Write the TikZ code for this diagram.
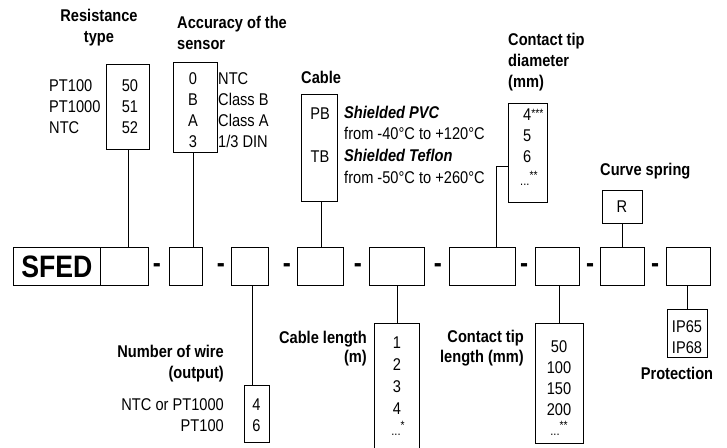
\documentclass[tikz,border=0pt]{standalone}
\usepackage{fontspec}
\setmainfont{Liberation Sans}[FakeStretch=0.86]
\begin{document}
\begin{tikzpicture}[x=1pt,y=-1pt,
  txt/.style={font=\fontsize{17}{21}\selectfont, inner sep=0pt},
  ttl/.style={font=\fontsize{17}{21}\selectfont\bfseries, inner sep=0pt},
  bx/.style={draw, line width=0.8pt, anchor=north west, inner sep=0pt},
  cn/.style={draw, line width=0.8pt},
  dsh/.style={font=\fontsize{28}{28}\selectfont\bfseries, inner sep=0pt},
  sm/.style={font=\fontsize{10}{10}\selectfont}
]
\useasboundingbox (0,0) rectangle (727,447);

% ---------- main row ----------
\node[bx, minimum width=87pt, minimum height=38pt, font=\fontsize{31}{31}\selectfont\bfseries] (sfed) at (13,247) {SFED};
\node[bx, minimum width=48pt, minimum height=38pt] (c1) at (100,247) {};
\node[bx, minimum width=33pt, minimum height=38pt] (b2) at (169,247) {};
\node[bx, minimum width=37pt, minimum height=38pt] (b3) at (231,247) {};
\node[bx, minimum width=46pt, minimum height=38pt] (b4) at (297,247) {};
\node[bx, minimum width=55pt, minimum height=38pt] (b5) at (369,247) {};
\node[bx, minimum width=66pt, minimum height=38pt] (b6) at (449,247) {};
\node[bx, minimum width=44pt, minimum height=38pt] (b7) at (535,247) {};
\node[bx, minimum width=44pt, minimum height=38pt] (b8) at (600,247) {};
\node[bx, minimum width=44pt, minimum height=38pt] (b9) at (666,247) {};

\node[dsh] (d1) at (157,268) {-};
\node[dsh] (d2) at (221,268) {-};
\node[dsh] (d3) at (287,268) {-};
\node[dsh] (d4) at (358,268) {-};
\node[dsh] (d5) at (438,268) {-};
\node[dsh] (d6) at (524,268) {-};
\node[dsh] (d7) at (590,268) {-};
\node[dsh] (d8) at (655,268) {-};

% ---------- resistance type ----------
\node[ttl, align=center] (tres) at (99,28) {Resistance\\type};
\node[bx, minimum width=43pt, minimum height=85pt] (res) at (106,64) {};
\node[txt, align=left, anchor=west] (lres) at (49,107) {PT100\\PT1000\\NTC};
\node[txt, align=center] (vres) at (130,107) {50\\51\\52};
\draw[cn] (res.south) -- (res.south |- c1.north);

% ---------- accuracy ----------
\node[ttl, align=left, anchor=west] (tacc) at (177,32.5) {Accuracy of the\\sensor};
\node[bx, minimum width=44pt, minimum height=90pt] (acc) at (173,62) {};
\node[txt, align=center] (vacc) at (193,110.5) {0\\B\\A\\3};
\node[txt, align=left, anchor=west] (lacc) at (218,110.5) {NTC\\Class B\\Class A\\1/3 DIN};
\coordinate (ka) at (193,0);
\draw[cn] (ka |- acc.south) -- (ka |- b2.north);

% ---------- cable ----------
\node[ttl, anchor=west] (tcab) at (301,77) {Cable};
\node[bx, minimum width=36pt, minimum height=107pt] (cab) at (301,94) {};
\node[txt] (vpb) at (320,114) {PB};
\node[txt] (vtb) at (320,157) {TB};
\node[txt, align=left, anchor=west, font=\fontsize{17}{21.7}\selectfont] (lcab) at (344,144.5)
  {\textbf{\textit{Shielded PVC}}\\from -40°C to +120°C\\\textbf{\textit{Shielded Teflon}}\\from -50°C to +260°C};
\coordinate (kc) at (321,0);
\draw[cn] (kc |- cab.south) -- (kc |- b4.north);

% ---------- contact tip diameter ----------
\node[ttl, align=left, anchor=west] (tdia) at (508,62) {Contact tip\\diameter\\(mm)};
\node[bx, minimum width=39pt, minimum height=99pt] (dia) at (508,103) {};
\node[txt, anchor=west] (vd1) at (523,115) {4\raisebox{3pt}{\fontsize{12}{12}\selectfont***}};
\node[txt, anchor=west] (vd2) at (523,136) {5};
\node[txt, anchor=west] (vd3) at (523,157) {6};
\node[txt, anchor=west] (vd4) at (520,178) {{\fontsize{13}{13}\selectfont...}\raisebox{6pt}{\fontsize{12}{12}\selectfont**}};
\coordinate (kd) at (496,166);
\draw[cn] (dia.west |- kd) -- (kd) -- (kd |- b6.north);

% ---------- curve spring ----------
\node[ttl, anchor=west] (tspr) at (600,171) {Curve spring};
\node[bx, minimum width=40pt, minimum height=33pt] (spr) at (602,190) {};
\node[txt] (vspr) at (622,206.5) {R};
\draw[cn] (spr.south) -- (spr.south |- b8.north);

% ---------- number of wire ----------
\node[ttl, align=right, anchor=east] (twir) at (224,364) {Number of wire\\(output)};
\node[bx, minimum width=25pt, minimum height=57pt] (wir) at (244,385) {};
\node[txt, align=center] (vwir) at (256.5,415) {4\\6};
\node[txt, align=right, anchor=east] (lwir) at (224,415) {NTC or PT1000\\PT100};
\coordinate (kw) at (252,0);
\draw[cn] (kw |- b3.south) -- (kw |- wir.north);

% ---------- cable length ----------
\node[ttl, align=right, anchor=east, font=\fontsize{17}{19.5}\selectfont\bfseries] (tlen) at (367,348.5) {Cable length\\(m)};
\node[bx, minimum width=45pt, minimum height=126pt] (len) at (374,323) {};
\node[txt] (vl1) at (397,343) {1};
\node[txt] (vl2) at (397,365) {2};
\node[txt] (vl3) at (397,387) {3};
\node[txt] (vl4) at (397,409) {4};
\node[txt] (vl5) at (398,428) {{\fontsize{13}{13}\selectfont...}\raisebox{6pt}{\fontsize{12}{12}\selectfont*}};
\draw[cn] (b5.south) -- (b5.south |- len.north);

% ---------- contact tip length ----------
\node[ttl, align=right, anchor=east, font=\fontsize{17}{20}\selectfont\bfseries] (ttip) at (524,348) {Contact tip\\length (mm)};
\node[bx, minimum width=48pt, minimum height=120pt] (tip) at (535,323) {};
\node[txt] (vt1) at (559,347) {50};
\node[txt] (vt2) at (559,367.5) {100};
\node[txt] (vt3) at (559,388.5) {150};
\node[txt] (vt4) at (559,409.5) {200};
\node[txt] (vt5) at (559,428) {{\fontsize{13}{13}\selectfont...}\raisebox{6pt}{\fontsize{12}{12}\selectfont**}};
\draw[cn] (tip.north) -- (tip.north |- b7.south);

% ---------- protection ----------
\node[bx, minimum width=40pt, minimum height=48pt] (pro) at (667,309) {};
\node[txt, align=center] (vpro) at (687,337) {IP65\\IP68};
\node[ttl] (tpro) at (677,373) {Protection};
\draw[cn] (pro.north) -- (pro.north |- b9.south);
\end{tikzpicture}
\end{document}
